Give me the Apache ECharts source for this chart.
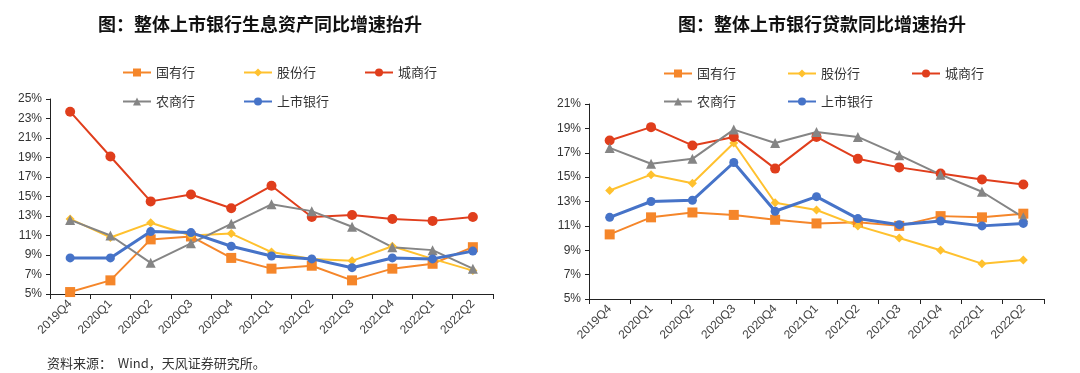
<!DOCTYPE html>
<html>
<head>
<meta charset="utf-8">
<script src="https://cdn.jsdelivr.net/npm/echarts@6/dist/echarts.min.js"></script>
<style>
  html, body { margin: 0; padding: 0; background: #fff; }
  #main { width: 1080px; height: 373px; }
</style>
</head>
<body>
<div id="main"></div>
<script>
// 季度
const categories = ['2019Q4', '2020Q1', '2020Q2', '2020Q3', '2020Q4', '2021Q1', '2021Q2', '2021Q3', '2021Q4', '2022Q1', '2022Q2']
const seriesNames = ['国有行', '股份行', '城商行', '农商行', '上市银行']

// 生息资产同比增速（%）
const assetGuoyou = [5.2, 6.4, 10.6, 10.9, 8.7, 7.6, 7.9, 6.4, 7.6, 8.1, 9.8]
const assetGufen = [12.7, 10.8, 12.3, 11.0, 11.2, 9.3, 8.6, 8.4, 9.9, 8.6, 7.4]
const assetChengshang = [23.7, 19.1, 14.5, 15.2, 13.8, 16.1, 12.9, 13.1, 12.7, 12.5, 12.9]
const assetNongshang = [12.6, 11.0, 8.2, 10.2, 12.2, 14.2, 13.5, 11.9, 9.8, 9.5, 7.6]
const assetShangshi = [8.7, 8.7, 11.4, 11.3, 9.9, 8.9, 8.6, 7.7, 8.7, 8.6, 9.4]

// 贷款同比增速（%）
const loanGuoyou = [10.3, 11.7, 12.1, 11.9, 11.5, 11.2, 11.3, 11.0, 11.8, 11.7, 12.0]
const loanGufen = [13.9, 15.2, 14.5, 17.8, 12.9, 12.3, 11.0, 10.0, 9.0, 7.9, 8.2]
const loanChengshang = [18.0, 19.1, 17.6, 18.3, 15.7, 18.3, 16.5, 15.8, 15.3, 14.8, 14.4]
const loanNongshang = [17.4, 16.1, 16.5, 18.9, 17.8, 18.7, 18.3, 16.8, 15.2, 13.8, 11.7]
const loanShangshi = [11.7, 13.0, 13.1, 16.2, 12.2, 13.4, 11.6, 11.1, 11.4, 11.0, 11.2]

const assetData = [assetGuoyou, assetGufen, assetChengshang, assetNongshang, assetShangshi]
const loanData = [loanGuoyou, loanGufen, loanChengshang, loanNongshang, loanShangshi]

const colors = ['#F5862A', '#FFC12E', '#E03E1C', '#858585', '#4673C8']
const symbols = ['rect', 'diamond', 'circle', 'triangle', 'circle']
const symbolSizes = [10, 9, 10, 10, 9]
const lineWidths = [2, 2, 2, 2, 3]

const font = '"Noto Sans CJK SC", "Noto Sans", sans-serif'

let charts = echarts.init(document.getElementById('main'))

function makeSeries (dataList, idx) {
  return dataList.map(function (d, i) {
    return {
      name: seriesNames[i],
      type: 'line',
      xAxisIndex: idx,
      yAxisIndex: idx,
      data: d,
      symbol: symbols[i],
      symbolSize: symbolSizes[i],
      z: i === 4 ? 5 : 3,
      lineStyle: { color: colors[i], width: lineWidths[i] },
      itemStyle: { color: colors[i] }
    }
  })
}

// 图例位置：每个图两行
function makeLegends (x0, step, y1, y2) {
  const pos = [[x0, y1], [x0 + step, y1], [x0 + step * 2, y1], [x0, y2], [x0 + step, y2]]
  return seriesNames.map(function (n, i) {
    return {
      data: [n],
      left: pos[i][0],
      top: pos[i][1] - 7,
      itemWidth: 28,
      itemHeight: 10,
      itemGap: 4,
      textStyle: { fontSize: 13, color: '#333', fontFamily: font }
    }
  })
}

function makeX (idx) {
  return {
    type: 'category',
    gridIndex: idx,
    data: categories,
    boundaryGap: true,
    axisLine: { lineStyle: { color: '#222', width: 1 } },
    axisTick: { show: true, length: 5, lineStyle: { color: '#222' } },
    axisLabel: { rotate: 45, fontSize: 12, color: '#444', margin: 8, fontFamily: 'Arial, "Liberation Sans", sans-serif', interval: 0 }
  }
}

function makeY (idx, max) {
  return {
    type: 'value',
    gridIndex: idx,
    min: 5,
    max: max,
    interval: 2,
    axisLine: { show: true, lineStyle: { color: '#222', width: 1 } },
    axisTick: { show: true, length: 4, inside: false, lineStyle: { color: '#222' } },
    splitLine: { show: false },
    axisLabel: { formatter: '{value}%', fontSize: 12, color: '#333', margin: 8, fontFamily: 'Arial, "Liberation Sans", sans-serif' }
  }
}

let options = {
  animation: false,
  title: [{
    text: '图：整体上市银行生息资产同比增速抬升',
    left: 255,
    top: 10,
    textAlign: 'center',
    textStyle: { fontSize: 18, fontWeight: 'bold', color: '#111', fontFamily: font }
  }, {
    text: '图：整体上市银行贷款同比增速抬升',
    left: 817,
    top: 10,
    textAlign: 'center',
    textStyle: { fontSize: 18, fontWeight: 'bold', color: '#111', fontFamily: font }
  }, {
    text: '资料来源：  Wind，天风证券研究所。',
    left: 42,
    top: 352,
    textStyle: { fontSize: 13, fontWeight: 'normal', color: '#333', fontFamily: font }
  }],
  legend: makeLegends(117, 121, 68, 97).concat(makeLegends(658, 124, 69, 97)),
  grid: [
    { left: 50, top: 99, width: 443, height: 195 },
    { left: 589, top: 104, width: 455, height: 195 }
  ],
  xAxis: [makeX(0), makeX(1)],
  yAxis: [makeY(0, 25), makeY(1, 21)],
  series: makeSeries(assetData, 0).concat(makeSeries(loanData, 1))
}

charts.setOption(options)
window.addEventListener('resize', function () {
  charts.resize()
})
</script>
</body>
</html>
